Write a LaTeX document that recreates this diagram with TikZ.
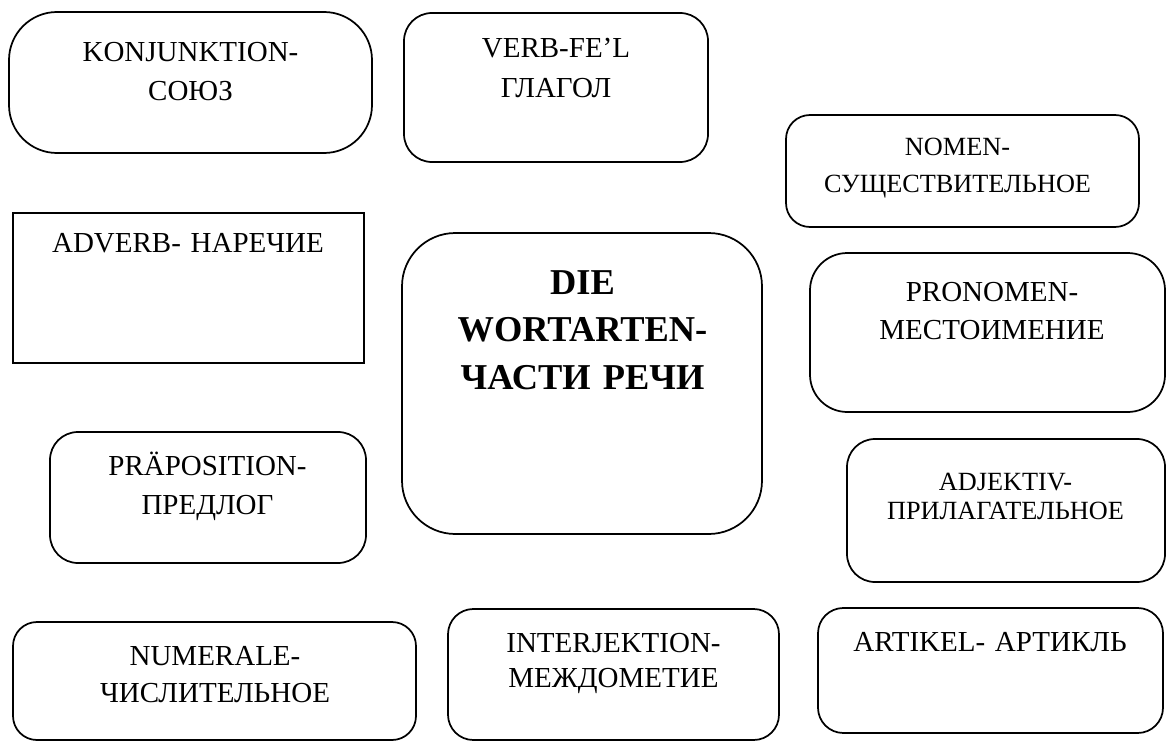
\documentclass[tikz,border=0pt]{standalone}
\usepackage{fontspec}
\setmainfont{Liberation Serif}
\tikzset{
  box/.style={draw, line width=1.3pt, inner sep=0pt, outer sep=0pt},
  lbl/.style={text width=320pt, align=center, inner sep=0pt, anchor=base},
  fnorm/.style={font={\fontsize{21.75pt}{#1}\selectfont}},
  fsmall/.style={font={\fontsize{19.7pt}{#1}\selectfont}},
  fbig/.style={font={\fontsize{27.3pt}{#1}\selectfont\bfseries}},
}
\begin{document}
\begin{tikzpicture}[x=0.75pt,y=-0.75pt]
\useasboundingbox (0,0) rectangle (1167,742);
% boxes
\node[box, rounded corners=36pt, minimum width=363*0.75pt, minimum height=141*0.75pt] (konj) at (190.5,82.5) {};
\node[box, rounded corners=21pt, minimum width=304*0.75pt, minimum height=149*0.75pt] (verb) at (556,87.5) {};
\node[box, rounded corners=18pt, minimum width=353*0.75pt, minimum height=112*0.75pt] (nomen) at (962.5,171) {};
\node[box, minimum width=351*0.75pt, minimum height=150*0.75pt] (adverb) at (188.5,288) {};
\node[box, rounded corners=40pt, minimum width=360*0.75pt, minimum height=301*0.75pt] (main) at (582,383.5) {};
\node[box, rounded corners=28pt, minimum width=355*0.75pt, minimum height=159*0.75pt] (pronomen) at (987.5,332.5) {};
\node[box, rounded corners=21pt, minimum width=316*0.75pt, minimum height=131*0.75pt] (praep) at (208,497.5) {};
\node[box, rounded corners=21pt, minimum width=318*0.75pt, minimum height=143*0.75pt] (adjektiv) at (1006,510.5) {};
\node[box, rounded corners=18pt, minimum width=403*0.75pt, minimum height=118*0.75pt] (numerale) at (214.5,681) {};
\node[box, rounded corners=19pt, minimum width=331*0.75pt, minimum height=131*0.75pt] (interj) at (613.5,674.5) {};
\node[box, rounded corners=19pt, minimum width=345*0.75pt, minimum height=125*0.75pt] (artikel) at (990.5,670.5) {};
% texts
\node[lbl, fnorm=29.25pt] (konjT) at (190.5,61.6) {KONJUNKTION-\\СОЮЗ};
\node[lbl, fnorm=30pt] (verbT) at (556,57.6) {VERB-FE’L\\ГЛАГОЛ};
\node[lbl, fsmall=27.75pt] (nomenT) at (957.5,155.7) {NOMEN-\\СУЩЕСТВИТЕЛЬНОЕ};
\node[lbl, fnorm=29pt] (adverbT) at (188,252.6) {ADVERB- НАРЕЧИЕ};
\node[lbl, fbig=35.6pt] (mainT) at (582.5,294.3) {DIE\\WORTARTEN-\\ЧАСТИ РЕЧИ};
\node[lbl, fnorm=28.5pt] (pronomenT) at (992,301.6) {PRONOMEN-\\МЕСТОИМЕНИЕ};
\node[lbl, fnorm=29.25pt] (praepT) at (207.5,475.6) {PRÄPOSITION-\\ПРЕДЛОГ};
\node[lbl, fsmall=21.4pt] (adjektivT) at (1005.5,490.7) {ADJEKTIV-\\ПРИЛАГАТЕЛЬНОЕ};
\node[lbl, fnorm=27.75pt] (numeraleT) at (215,665.6) {NUMERALE-\\ЧИСЛИТЕЛЬНОЕ};
\node[lbl, fnorm=26.25pt] (interjT) at (613.5,652.6) {INTERJEKTION-\\МЕЖДОМЕТИЕ};
\node[lbl, fnorm=29pt] (artikelT) at (990,651.6) {ARTIKEL- АРТИКЛЬ};
\end{tikzpicture}
\end{document}
